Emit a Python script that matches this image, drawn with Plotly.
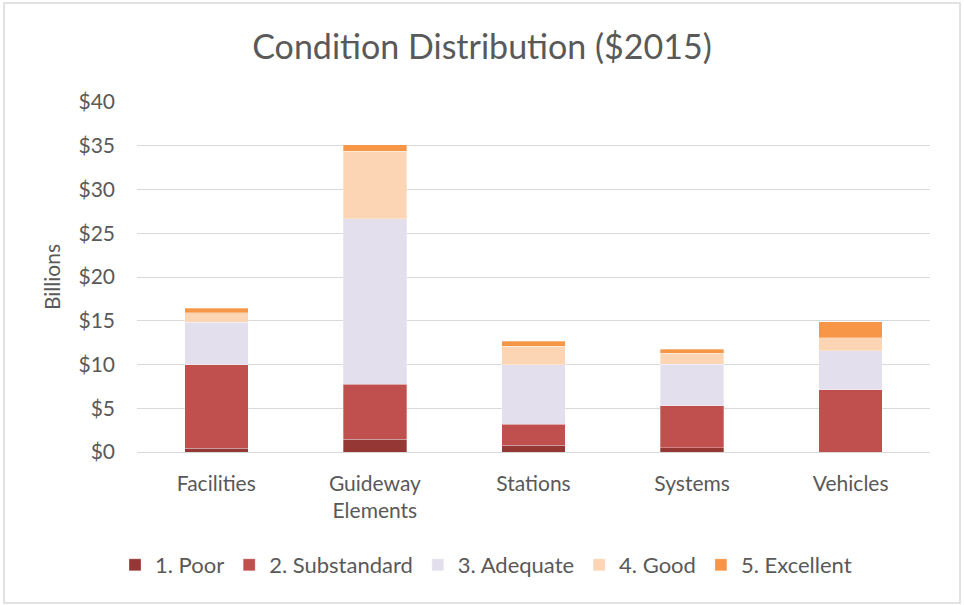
import plotly.graph_objects as go

categories = ["Facilities", "Guideway<br>Elements", "Stations", "Systems", "Vehicles"]
poor = [0.45, 1.45, 0.8, 0.5, 0.0]
substandard = [9.55, 6.3, 2.35, 4.8, 7.1]
adequate = [4.85, 18.9, 6.85, 4.75, 4.5]
good = [1.05, 7.75, 2.1, 1.25, 1.45]
excellent = [0.55, 0.7, 0.55, 0.45, 1.85]

series = [
    ("1. Poor", poor, "#953735"),
    ("2. Substandard", substandard, "#C0504D"),
    ("3. Adequate", adequate, "#E4DFEC"),
    ("4. Good", good, "#FCD5B4"),
    ("5. Excellent", excellent, "#F79646"),
]

tick_vals = [0, 5, 10, 15, 20, 25, 30, 35, 40]
tick_text = ["$0", "$5", "$10", "$15", "$20", "$25", "$30", "$35", "$40"]

FONT = "Lato, Open Sans, sans-serif"
GREY = "#595959"

fig = go.Figure()
for name, vals, color in series:
    fig.add_trace(go.Bar(
        x=categories, y=vals, name=name,
        marker=dict(color=color, line=dict(color="rgba(255,255,255,0.6)", width=0.5)),
    ))

W, H = 964, 605
L, R, T, B = 137, 34, 102, 153
pw, ph = W - L - R, H - T - B

fig.update_layout(
    width=W, height=H,
    barmode="stack", bargap=0.6,
    plot_bgcolor="white", paper_bgcolor="white",
    margin=dict(l=L, r=R, t=T, b=B, autoexpand=False),
    font=dict(family=FONT, color=GREY, size=21),
    title=dict(text="Condition Distribution ($2015)", x=0.5, xanchor="center", xref="container",
               y=1 - 47 / H, yanchor="middle", font=dict(size=34, color=GREY, family=FONT)),
    xaxis=dict(showgrid=False, showline=False, ticks="", tickfont=dict(size=21, color=GREY),
               ticklabelstandoff=17, tickangle=0),
    yaxis=dict(range=[0, 40], tickvals=tick_vals, ticktext=tick_text, showgrid=True,
               gridcolor="#D9D9D9", gridwidth=1, zeroline=True, zerolinecolor="#D9D9D9",
               zerolinewidth=1, ticks="", tickfont=dict(size=21, color=GREY),
               ticklabelstandoff=21,
               title=dict(text="Billions", font=dict(size=21, color=GREY), standoff=12)),
    legend=dict(orientation="h", x=(486 - L) / pw, xanchor="center",
                y=(452 - 565) / ph, yanchor="middle",
                font=dict(size=22, color=GREY), traceorder="normal", itemwidth=30),
    shapes=[dict(type="rect", xref="paper", yref="paper",
                 x0=(4 - L) / pw, x1=(960 - L) / pw,
                 y0=(452 - 603) / ph, y1=(452 - 3) / ph,
                 line=dict(color="#D9D9D9", width=1.5), fillcolor="rgba(0,0,0,0)", layer="below")],
)

fig.write_html("out.html", config={"displayModeBar": False},
               post_script="document.body.style.margin='0';")
